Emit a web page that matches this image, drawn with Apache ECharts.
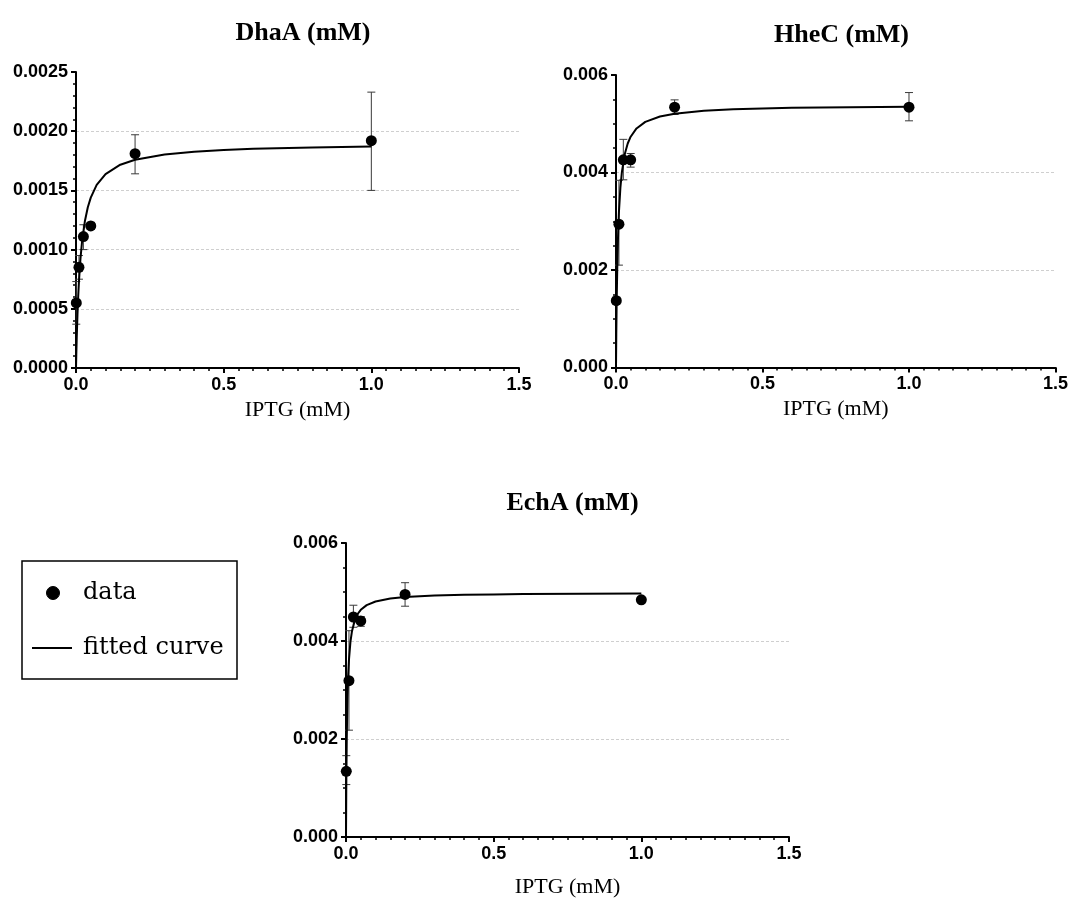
<!DOCTYPE html>
<html>
<head>
<meta charset="utf-8">
<script src="https://cdn.jsdelivr.net/npm/echarts@6/dist/echarts.min.js"></script>
<style>
html,body{margin:0;padding:0;background:#fff;}
#chart{width:1071px;height:899px;}
</style>
</head>
<body>
<div id="chart"></div>
<script>
// ---- data ----
const panelTitles = ['DhaA (mM)', 'HheC (mM)', 'EchA (mM)'];
const xAxisName = 'IPTG (mM)';
const xTickLabels = ['0.0', '0.5', '1.0', '1.5'];

// IPTG concentrations of the measured points (mM)
const iptg = [0.001, 0.01, 0.025, 0.05, 0.2, 1.0];

// measured means
const dhaA = [0.00055, 0.00085, 0.00111, 0.00120, 0.00181, 0.00192];
const hheC = [0.00137, 0.00294, 0.00426, 0.00426, 0.00534, 0.00534];
const echA = [0.00134, 0.00319, 0.00449, 0.00441, 0.00495, 0.00484];

// error bar limits (low, high)
const dhaALow  = [0.00037, 0.00075, 0.00100, 0.00117, 0.00164, 0.00150];
const dhaAHigh = [0.00073, 0.00095, 0.00121, 0.00123, 0.00197, 0.00233];
const hheCLow  = [0.00130, 0.00210, 0.00385, 0.00411, 0.00519, 0.00506];
const hheCHigh = [0.00144, 0.00384, 0.00468, 0.00439, 0.00549, 0.00564];
const echALow  = [0.00107, 0.00218, 0.00428, 0.00430, 0.00471, 0.00480];
const echAHigh = [0.00166, 0.00421, 0.00473, 0.00450, 0.00519, 0.00488];

// fitted curves, read along x
const curveX = [0, 0.001, 0.0025, 0.005, 0.0075, 0.01, 0.015, 0.02, 0.03, 0.04, 0.05, 0.07, 0.1, 0.15, 0.2, 0.3, 0.4, 0.5, 0.6, 0.8, 1.0];
const dhaACurve = [0, 0.000112, 0.000257, 0.000452, 0.000606, 0.000731, 0.000919, 0.001056, 0.001239, 0.001357, 0.001439, 0.001547, 0.001638, 0.001717, 0.001759, 0.001804, 0.001827, 0.001841, 0.001851, 0.001863, 0.00187];
const hheCCurve = [0, 0.000682, 0.001433, 0.002264, 0.002806, 0.003188, 0.00369, 0.004005, 0.00438, 0.004595, 0.004734, 0.004904, 0.005039, 0.00515, 0.005207, 0.005266, 0.005295, 0.005314, 0.005326, 0.005341, 0.00535];
const echACurve = [0, 0.001039, 0.00198, 0.002835, 0.003311, 0.003615, 0.003981, 0.004192, 0.004428, 0.004556, 0.004637, 0.004732, 0.004806, 0.004866, 0.004896, 0.004927, 0.004942, 0.004951, 0.004958, 0.004966, 0.00497];

// y axis settings per panel
const yMax = [0.0025, 0.006, 0.006];
const yStep = [0.0005, 0.002, 0.002];
const yDecimals = [4, 3, 3];
const yMinorSplit = [5, 4, 4];

// ---- chart ----
const means = [dhaA, hheC, echA];
const lows = [dhaALow, hheCLow, echALow];
const highs = [dhaAHigh, hheCHigh, echAHigh];
const curves = [dhaACurve, hheCCurve, echACurve];

const grids = [
  {left: 76, top: 72, width: 443, height: 296},
  {left: 616, top: 75, width: 441, height: 292.5},
  {left: 346, top: 543, width: 443, height: 294}
];
const nameGaps = [31, 31, 39];

const labelFont = {fontFamily: 'Liberation Sans, Arial, sans-serif', fontWeight: 'bold', fontSize: 18, color: '#000'};

const xAxes = grids.map((g, i) => ({
  type: 'value', gridIndex: i, min: 0, max: 1.5, interval: 0.5,
  name: xAxisName, nameLocation: 'middle', nameGap: nameGaps[i],
  nameTextStyle: {fontFamily: 'Liberation Serif, Times New Roman, serif', fontSize: 22, color: '#000'},
  axisLine: {show: true, onZero: false, lineStyle: {color: '#000', width: 2}},
  axisTick: {show: true, length: 5, lineStyle: {color: '#000', width: 2}},
  minorTick: {show: true, splitNumber: 10, length: 3, lineStyle: {color: '#000', width: 1.5}},
  splitLine: {show: false},
  axisLabel: Object.assign({margin: 8, formatter: v => xTickLabels[Math.round(v / 0.5)]}, labelFont)
}));

const yAxes = grids.map((g, i) => ({
  type: 'value', gridIndex: i, min: 0, max: yMax[i], interval: yStep[i],
  axisLine: {show: true, onZero: false, lineStyle: {color: '#000', width: 2}},
  axisTick: {show: true, length: 5, lineStyle: {color: '#000', width: 2}},
  minorTick: {show: true, splitNumber: yMinorSplit[i], length: 3, lineStyle: {color: '#000', width: 1.5}},
  splitLine: {show: true, showMinLine: false, showMaxLine: false, lineStyle: {color: '#cfcfcf', width: 1, type: [3, 2]}},
  axisLabel: Object.assign({margin: 8, formatter: v => v.toFixed(yDecimals[i])}, labelFont)
}));

const series = [];
for (let i = 0; i < 3; i++) {
  const errData = iptg.map((x, k) => [x, lows[i][k], highs[i][k]]);
  series.push({
    type: 'custom', name: 'error', xAxisIndex: i, yAxisIndex: i, z: 2,
    data: errData,
    renderItem: function (params, api) {
      const x = api.value(0);
      const lo = api.coord([x, api.value(1)]);
      const hi = api.coord([x, api.value(2)]);
      const cap = 4;
      const st = {stroke: '#3a3a3a', lineWidth: 1};
      return {type: 'group', children: [
        {type: 'line', shape: {x1: lo[0], y1: lo[1], x2: hi[0], y2: hi[1]}, style: st},
        {type: 'line', shape: {x1: lo[0] - cap, y1: lo[1], x2: lo[0] + cap, y2: lo[1]}, style: st},
        {type: 'line', shape: {x1: hi[0] - cap, y1: hi[1], x2: hi[0] + cap, y2: hi[1]}, style: st}
      ]};
    }
  });
  series.push({
    type: 'line', name: 'fitted curve', xAxisIndex: i, yAxisIndex: i, z: 3,
    data: curveX.map((x, k) => [x, curves[i][k]]),
    showSymbol: false, symbol: 'none', smooth: false,
    lineStyle: {color: '#000', width: 2}
  });
  series.push({
    type: 'scatter', name: 'data', xAxisIndex: i, yAxisIndex: i, z: 4,
    data: iptg.map((x, k) => [x, means[i][k]]),
    symbol: 'circle', symbolSize: 11,
    itemStyle: {color: '#000', opacity: 1}
  });
}

const titleCenters = [[298, 15], [836.5, 17], [567.5, 485]];
const titles = panelTitles.map((t, i) => ({
  text: t, left: titleCenters[i][0], top: titleCenters[i][1], textAlign: 'center',
  textStyle: {fontFamily: 'Liberation Serif, Times New Roman, serif', fontWeight: 'bold', fontSize: 26, color: '#000'}
}));

const legendFont = '24px "DejaVu Serif", serif';
const option = {
  animation: false,
  backgroundColor: '#fff',
  title: titles,
  grid: grids,
  xAxis: xAxes,
  yAxis: yAxes,
  series: series,
  graphic: [
    {type: 'rect', shape: {x: 22, y: 561, width: 215, height: 118}, style: {fill: '#fff', stroke: '#000', lineWidth: 1.5}},
    {type: 'circle', shape: {cx: 53, cy: 593, r: 6.5}, style: {fill: '#000', stroke: '#000', lineWidth: 1}},
    {type: 'text', x: 83, y: 593, style: {text: 'data', font: legendFont, fill: '#000', verticalAlign: 'middle'}},
    {type: 'line', shape: {x1: 32, y1: 648, x2: 72, y2: 648}, style: {stroke: '#000', lineWidth: 2}},
    {type: 'text', x: 83, y: 648, style: {text: 'fitted curve', font: legendFont, fill: '#000', verticalAlign: 'middle'}}
  ]
};

const chart = echarts.init(document.getElementById('chart'), null, {renderer: 'canvas'});
chart.setOption(option);
</script>
</body>
</html>
